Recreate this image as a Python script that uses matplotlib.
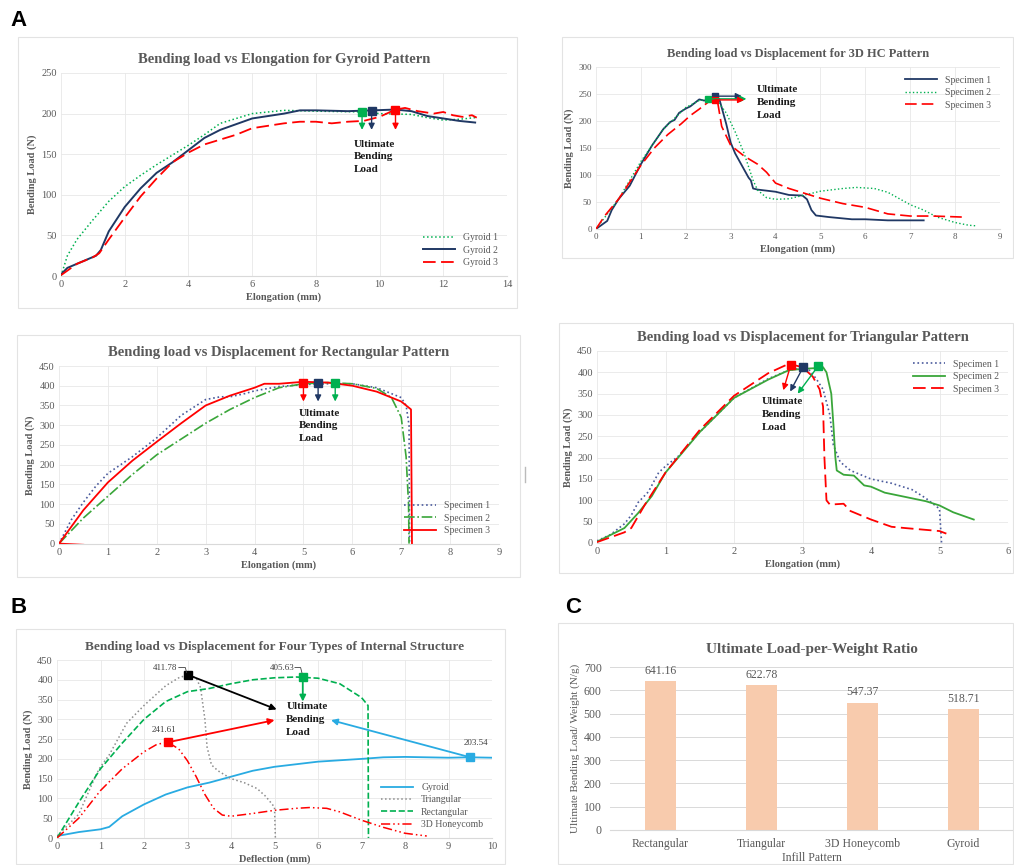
import matplotlib
matplotlib.use("Agg")
import matplotlib.pyplot as plt
from matplotlib.patches import Rectangle

plt.rcParams['font.family'] = ['Liberation Serif', 'DejaVu Serif']

W, H = 1014, 865

# ---- DATA: Gyroid pattern (A1) ----
gy1_x = [0, 0.2, 0.5, 1.0, 1.5, 2.0, 2.5, 3.0, 3.5, 4.0, 4.5, 5.0, 5.5, 6.0, 7.0, 8.0, 9.5, 10.0, 11.0, 11.5, 12.0, 12.5, 13.0]
gy1_y = [0, 25, 45, 69, 92, 110, 124, 137, 149, 161, 174, 188, 194, 200, 204, 203, 202, 200, 199, 195, 192, 193, 195]
gy2_x = [0, 0.2, 0.5, 0.8, 1.1, 1.25, 1.5, 2.0, 2.5, 3.0, 3.5, 4.0, 4.5, 5.0, 5.5, 6.0, 7.0, 7.5, 8.0, 9.0, 9.8, 10.5, 11.0, 11.5, 12.0, 12.5, 13.0]
gy2_y = [2, 10, 15, 20, 25, 32, 55, 85, 108, 127, 140, 155, 170, 180, 187, 194, 200, 204, 204, 203, 204, 205, 203, 197, 194, 191, 189]
gy3_x = [0, 0.5, 1.0, 1.2, 1.5, 2.0, 2.5, 3.0, 3.5, 4.0, 4.5, 5.0, 5.5, 6.0, 7.0, 7.5, 8.0, 8.5, 9.0, 9.5, 10.0, 10.5, 10.8, 11.2, 11.7, 12.0, 12.3, 12.6, 12.9, 13.05]
gy3_y = [1, 15, 23, 28, 45, 72, 98, 120, 140, 152, 162, 168, 174, 182, 188, 190, 190, 188, 190, 191, 196, 205, 207, 203, 200, 202, 198, 196, 198, 195]
gy_peak_x = [9.45, 9.75, 10.5]
gy_peak_y = [202, 203.5, 205]

# ---- DATA: 3D HC pattern (A2) ----
hc1_x = [0, 0.25, 0.35, 0.5, 0.75, 1.0, 1.25, 1.5, 1.65, 1.75, 1.85, 2.0, 2.1, 2.3, 2.4, 2.5, 2.65, 2.75, 2.8, 2.9, 3.0, 3.1, 3.2, 3.3, 3.4, 3.45, 3.5, 3.6, 4.0, 4.3, 4.6, 4.7, 4.8, 4.9, 5.2, 5.7, 6.0, 6.5, 7.0, 7.3]
hc1_y = [0, 15, 35, 55, 80, 120, 155, 185, 198, 202, 215, 223, 227, 240, 238, 238, 245, 240, 225, 195, 160, 140, 125, 110, 95, 90, 75, 73, 69, 63, 62, 55, 35, 25, 22, 18, 18, 16, 16, 16]
hc2_x = [0, 0.5, 1.0, 1.5, 2.0, 2.3, 2.5, 2.7, 2.9, 3.1, 3.3, 3.5, 3.6, 3.8, 4.0, 4.3, 4.6, 5.0, 5.5, 5.8, 6.2, 6.5, 7.0, 7.3, 7.6, 8.0, 8.3, 8.45]
hc2_y = [0, 55, 125, 185, 225, 238, 240, 238, 215, 180, 140, 90, 72, 58, 55, 56, 62, 70, 75, 77, 75, 68, 45, 35, 22, 12, 7, 6]
hc3_x = [0, 0.2, 0.5, 1.0, 1.3, 1.6, 1.9, 2.1, 2.3, 2.5, 2.7, 2.8, 3.0, 3.3, 3.6, 3.8, 4.0, 4.3, 5.0, 5.5, 6.0, 6.5, 7.0, 7.5, 8.2]
hc3_y = [0, 25, 55, 118, 150, 175, 195, 210, 222, 235, 240, 190, 155, 135, 120, 105, 85, 75, 57, 47, 40, 28, 24, 24, 22]
hc_peak_x = [2.65, 2.5, 2.65]
hc_peak_y = [246, 241, 239]
hc_arrow_x = [3.25, 3.35, 3.3]

# ---- DATA: Rectangular pattern (A3) ----
re1_x = [0, 0.25, 0.5, 0.75, 1.0, 1.5, 2.0, 2.5, 3.0, 3.3, 3.5, 3.8, 4.0, 4.5, 5.0, 5.5, 6.0, 6.5, 7.0, 7.1, 7.16, 7.17]
re1_y = [0, 60, 105, 145, 178, 220, 268, 325, 365, 372, 372, 380, 387, 398, 403, 405, 405, 395, 370, 350, 300, 0]
re2_x = [0, 0.5, 1.0, 1.5, 2.0, 2.5, 3.0, 3.5, 4.0, 4.5, 5.0, 5.5, 6.0, 6.5, 6.8, 7.0, 7.1, 7.15, 7.16]
re2_y = [0, 65, 120, 175, 225, 265, 305, 340, 370, 395, 405, 408, 405, 393, 370, 320, 220, 100, 0]
re3_x = [0.5, 0.0, 0.5, 1.0, 1.5, 2.0, 2.5, 3.0, 3.5, 4.0, 4.2, 4.5, 5.0, 5.5, 6.0, 6.5, 7.0, 7.2, 7.22]
re3_y = [-3, 0, 85, 155, 210, 258, 305, 350, 375, 395, 405, 405, 410, 408, 400, 385, 360, 340, 0]
re_peak_x = [5.0, 5.3, 5.65]
re_peak_y = [408, 408, 408]

# ---- DATA: Triangular pattern (A4) ----
tr1_x = [0, 0.2, 0.4, 0.5, 0.6, 0.75, 0.9, 1.0, 1.2, 1.5, 2.0, 2.5, 2.8, 3.0, 3.1, 3.2, 3.3, 3.4, 3.45, 3.55, 3.7, 4.0, 4.3, 4.6, 4.8, 5.0, 5.03]
tr1_y = [5, 20, 45, 65, 95, 120, 165, 180, 205, 260, 340, 385, 405, 410, 405, 385, 360, 300, 230, 190, 170, 150, 140, 125, 105, 80, 0]
tr2_x = [0, 0.4, 0.6, 0.8, 1.0, 1.5, 2.0, 2.5, 2.8, 3.0, 3.2, 3.3, 3.35, 3.42, 3.45, 3.48, 3.5, 3.6, 3.75, 3.9, 4.0, 4.2, 4.5, 4.8, 5.0, 5.2, 5.5]
tr2_y = [3, 35, 70, 110, 165, 260, 340, 383, 405, 408, 410, 412, 400, 350, 280, 200, 170, 160, 158, 135, 132, 118, 108, 98, 88, 72, 55]
tr3_x = [0, 0.4, 0.5, 0.7, 1.0, 1.5, 2.0, 2.5, 2.8, 3.0, 3.15, 3.25, 3.3, 3.32, 3.35, 3.4, 3.6, 3.7, 4.0, 4.3, 4.5, 5.0, 5.1]
tr3_y = [2, 25, 35, 90, 165, 265, 345, 398, 420, 412, 390, 360, 320, 200, 100, 90, 92, 75, 55, 38, 35, 28, 22]
tr_peak_x = [2.83, 3.01, 3.23]
tr_peak_y = [418, 412, 415]
tr_arrow_x = [2.72, 2.82, 2.93]
tr_arrow_y = [358, 355, 350]

# ---- DATA: four structures (B) ----
b_gy_x = [0, 0.5, 1.0, 1.2, 1.5, 2.0, 2.5, 3.0, 3.5, 4.0, 4.5, 5.0, 6.0, 7.0, 7.5, 8.0, 9.0, 9.5, 10.0]
b_gy_y = [5, 15, 22, 28, 55, 85, 110, 128, 140, 155, 170, 180, 193, 200, 204, 205, 203, 204, 203]
b_tr_x = [0, 0.5, 0.7, 0.9, 1.0, 1.2, 1.4, 1.6, 2.0, 2.5, 2.8, 3.0, 3.2, 3.3, 3.4, 3.45, 3.55, 3.7, 4.0, 4.3, 4.6, 4.8, 5.0, 5.02]
b_tr_y = [5, 60, 110, 160, 180, 210, 250, 290, 335, 385, 405, 412, 405, 380, 300, 230, 185, 170, 150, 140, 125, 105, 78, 0]
b_re_x = [0, 0.5, 1.0, 1.5, 2.0, 2.5, 3.0, 3.5, 4.0, 4.5, 5.0, 5.5, 6.0, 6.5, 7.0, 7.15, 7.16]
b_re_y = [0, 90, 175, 240, 300, 345, 370, 378, 390, 400, 405, 407, 404, 390, 355, 335, 0]
b_hc_x = [0, 0.5, 1.0, 1.5, 2.0, 2.3, 2.55, 2.8, 3.0, 3.2, 3.4, 3.6, 3.8, 4.0, 4.5, 5.0, 5.5, 5.8, 6.2, 6.5, 7.0, 7.5, 8.0, 8.5]
b_hc_y = [0, 50, 120, 175, 218, 237, 242, 225, 195, 155, 110, 75, 58, 55, 62, 70, 75, 77, 75, 66, 45, 27, 12, 5]
b_peak_x = [9.5, 3.02, 5.65, 2.55]
b_peak_y = [204, 412, 408, 242]
b_peak_lbl = ["203.54", "411.78", "405.63", "241.61"]
b_lbl_x = [9.62, 2.49, 5.17, 2.47]
b_lbl_y = [240, 431, 431, 273]
b_arrow_x = [6.3, 5.05, 5.65, 5.0]
b_arrow_y = [298, 325, 345, 298]

# ---- DATA: load-per-weight (C) ----
patterns = ["Rectangular", "Triangular", "3D Honeycomb", "Gyroid"]
ratio = [641.16, 622.78, 547.37, 518.71]

RED = "#ff0000"
NAVY = "#203864"
GREEN = "#00b050"
SLATE = "#4a5a9c"
GRAY = "#595959"
LONG_DASH = (0, (7, 3))


def rect(l, t, r, b):
    return [l / W, 1 - b / H, (r - l) / W, (b - t) / H]


def style(ax, xmax, ymax, xstep, ystep, title, xlabel, ylabel, fs=10.5):
    ax.set_xlim(0, xmax)
    ax.set_ylim(0, ymax)
    ax.set_xticks(range(0, xmax + 1, xstep))
    ax.set_yticks(range(0, ymax + 1, ystep))
    ax.grid(color="#e8e8e8", lw=0.6)
    ax.set_axisbelow(True)
    for s in ["top", "right", "left"]:
        ax.spines[s].set_visible(False)
    ax.spines["bottom"].set_color("#d9d9d9")
    ax.tick_params(length=0, labelsize=7.5, colors=GRAY, pad=3)
    ax.set_title(title, fontsize=fs, fontweight="bold", color=GRAY, pad=7)
    ax.set_xlabel(xlabel, fontsize=7.5, fontweight="bold", color=GRAY, labelpad=2)
    ax.set_ylabel(ylabel, fontsize=7.5, fontweight="bold", color=GRAY, labelpad=3)


def ubl_text(ax, x, y):
    ax.text(x, y, "Ultimate\nBending\nLoad", fontsize=8, fontweight="bold",
            va="top", ha="left", linespacing=1.55, color="#1a1a1a")


def arrow(ax, x0, y0, x1, y1, c, lw=1.0):
    ax.annotate("", xy=(x1, y1), xytext=(x0, y0),
                arrowprops=dict(arrowstyle="-|>", color=c, lw=lw,
                                mutation_scale=9, shrinkA=0, shrinkB=0))


def legend(ax, loc):
    leg = ax.legend(loc=loc, frameon=False, fontsize=7, handlelength=3.3,
                    labelspacing=0.35)
    for t in leg.get_texts():
        t.set_color(GRAY)


fig = plt.figure(figsize=(W / 100, H / 100), dpi=100)

# chart area borders
for l, t, r, b in [(18, 37, 517, 308), (562, 37, 1013, 258), (17, 335, 520, 577),
                   (559, 323, 1013, 573), (16, 629, 505, 864), (558, 623, 1013, 864)]:
    fig.patches.append(Rectangle((l / W, 1 - b / H), (r - l) / W, (b - t) / H,
                                 transform=fig.transFigure, fill=False,
                                 ec="#e3e3e3", lw=0.8))
fig.add_artist(plt.Line2D([525 / W, 525 / W], [1 - 467 / H, 1 - 482 / H],
                          transform=fig.transFigure, color="#bbbbbb", lw=1))

for lbl, x, y in [("A", 10, 26), ("B", 10, 613), ("C", 565, 613)]:
    fig.text(x / W, 1 - y / H, lbl, fontsize=16, fontweight="bold",
             family="Liberation Sans", va="baseline")

# ---- A1 ----
ax = fig.add_axes(rect(61, 73, 507, 276))
ax.plot(gy1_x, gy1_y, color=GREEN, ls=":", lw=1.1, label="Gyroid 1")
ax.plot(gy2_x, gy2_y, color=NAVY, ls="-", lw=1.4, label="Gyroid 2")
ax.plot(gy3_x, gy3_y, color=RED, ls=LONG_DASH, lw=1.3, label="Gyroid 3")
for px_, py_, c in zip(gy_peak_x, gy_peak_y, [GREEN, NAVY, RED]):
    arrow(ax, px_, py_, px_, 180, c)
    ax.plot(px_, py_, "s", color=c, ms=6)
ubl_text(ax, 9.2, 168)
style(ax, 14, 250, 2, 50, "Bending load vs Elongation for Gyroid Pattern",
      "Elongation (mm)", "Bending Load (N)")
legend(ax, "lower right")

# ---- A2 ----
ax = fig.add_axes(rect(596, 67, 1000, 229))
ax.plot(hc1_x, hc1_y, color=NAVY, ls="-", lw=1.3, label="Specimen 1")
ax.plot(hc2_x, hc2_y, color=GREEN, ls=":", lw=1.0, label="Specimen 2")
ax.plot(hc3_x, hc3_y, color=RED, ls=LONG_DASH, lw=1.2, label="Specimen 3")
for px_, py_, ax_, c in zip(hc_peak_x, hc_peak_y, hc_arrow_x, [NAVY, GREEN, RED]):
    arrow(ax, px_, py_, ax_, py_, c)
    ax.plot(px_, py_, "s", color=c, ms=5)
ubl_text(ax, 3.58, 266)
style(ax, 9, 300, 1, 50, "Bending load vs Displacement for 3D HC Pattern",
      "Elongation (mm)", "Bending Load (N)", fs=9)
ax.tick_params(labelsize=6.5)
legend(ax, "upper right")

# ---- A3 ----
ax = fig.add_axes(rect(59, 366, 499, 544))
ax.plot(re1_x, re1_y, color=SLATE, ls=":", lw=1.2, label="Specimen 1")
ax.plot(re2_x, re2_y, color="#3aa63a", ls="-.", lw=1.2, label="Specimen 2")
ax.plot(re3_x, re3_y, color=RED, ls="-", lw=1.3, label="Specimen 3")
for px_, py_, c in zip(re_peak_x, re_peak_y, [RED, NAVY, GREEN]):
    arrow(ax, px_, py_, px_, 360, c)
    ax.plot(px_, py_, "s", color=c, ms=6)
ubl_text(ax, 4.9, 342)
style(ax, 9, 450, 1, 50, "Bending load vs Displacement for Rectangular Pattern",
      "Elongation (mm)", "Bending Load (N)")
ax.set_ylim(-1, 450)
legend(ax, "lower right")

# ---- A4 ----
ax = fig.add_axes(rect(597, 351, 1008, 543))
ax.plot(tr1_x, tr1_y, color=SLATE, ls=":", lw=1.2, label="Specimen 1")
ax.plot(tr2_x, tr2_y, color="#3aa63a", ls="-", lw=1.3, label="Specimen 2")
ax.plot(tr3_x, tr3_y, color=RED, ls=LONG_DASH, lw=1.3, label="Specimen 3")
for px_, py_, ex, ey, c in zip(tr_peak_x, tr_peak_y, tr_arrow_x, tr_arrow_y, [RED, NAVY, GREEN]):
    arrow(ax, px_, py_, ex, ey, c)
    ax.plot(px_, py_, "s", color=c, ms=6)
ubl_text(ax, 2.4, 342)
style(ax, 6, 450, 1, 50, "Bending load vs Displacement for Triangular Pattern",
      "Elongation (mm)", "Bending Load (N)")
legend(ax, "upper right")

# ---- B ----
ax = fig.add_axes(rect(57, 660, 492, 838))
ax.plot(b_gy_x, b_gy_y, color="#29abe2", ls="-", lw=1.3, label="Gyroid")
ax.plot(b_tr_x, b_tr_y, color="#8c8c8c", ls=":", lw=1.1, label="Triangular")
ax.plot(b_re_x, b_re_y, color=GREEN, ls="--", lw=1.2, label="Rectangular")
ax.plot(b_hc_x, b_hc_y, color=RED, ls=(0, (6, 2, 1, 2, 1, 2)), lw=1.1, label="3D Honeycomb")
b_cols = ["#29abe2", "black", GREEN, RED]
for i in range(4):
    arrow(ax, b_peak_x[i], b_peak_y[i], b_arrow_x[i], b_arrow_y[i], b_cols[i], lw=1.3)
    ax.plot(b_peak_x[i], b_peak_y[i], "s", color=b_cols[i], ms=6)
    ax.text(b_lbl_x[i], b_lbl_y[i], b_peak_lbl[i], fontsize=6.5, color="#404040",
            ha="center", va="center")
ax.plot([2.8, 2.95, 2.98], [431, 431, 418], color="#404040", lw=0.6)
ax.plot([5.47, 5.6, 5.63], [431, 431, 418], color="#404040", lw=0.6)
ubl_text(ax, 5.27, 343)
style(ax, 10, 450, 1, 50,
      "Bending load vs Displacement for Four Types of Internal Structure",
      "Deflection (mm)", "Bending Load (N)", fs=9.5)
legend(ax, "lower right")

# ---- C ----
ax = fig.add_axes(rect(610, 667, 1014, 830))
bars = ax.bar(patterns, ratio, width=0.31, color="#f8cbad")
for b, v in zip(bars, ratio):
    ax.text(b.get_x() + b.get_width() / 2, v + 18, f"{v:.2f}", ha="center",
            va="bottom", fontsize=8.5, color=GRAY)
ax.set_xlim(-0.5, 3.5)
ax.set_ylim(0, 700)
ax.set_yticks(range(0, 701, 100))
ax.grid(axis="y", color="#d9d9d9", lw=0.7)
ax.set_axisbelow(True)
for s in ["top", "right", "left"]:
    ax.spines[s].set_visible(False)
ax.spines["bottom"].set_color("#d9d9d9")
ax.tick_params(length=0, labelsize=8.5, colors=GRAY, pad=6)
ax.set_title("Ultimate Load-per-Weight Ratio", fontsize=11, fontweight="bold",
             color=GRAY, pad=10)
ax.set_xlabel("Infill Pattern", fontsize=8.5, color=GRAY, labelpad=1)
ax.set_ylabel("Ultimate Bending Load/ Weight (N/g)", fontsize=8, color=GRAY, labelpad=3)

fig.savefig("out.png", dpi=100)
